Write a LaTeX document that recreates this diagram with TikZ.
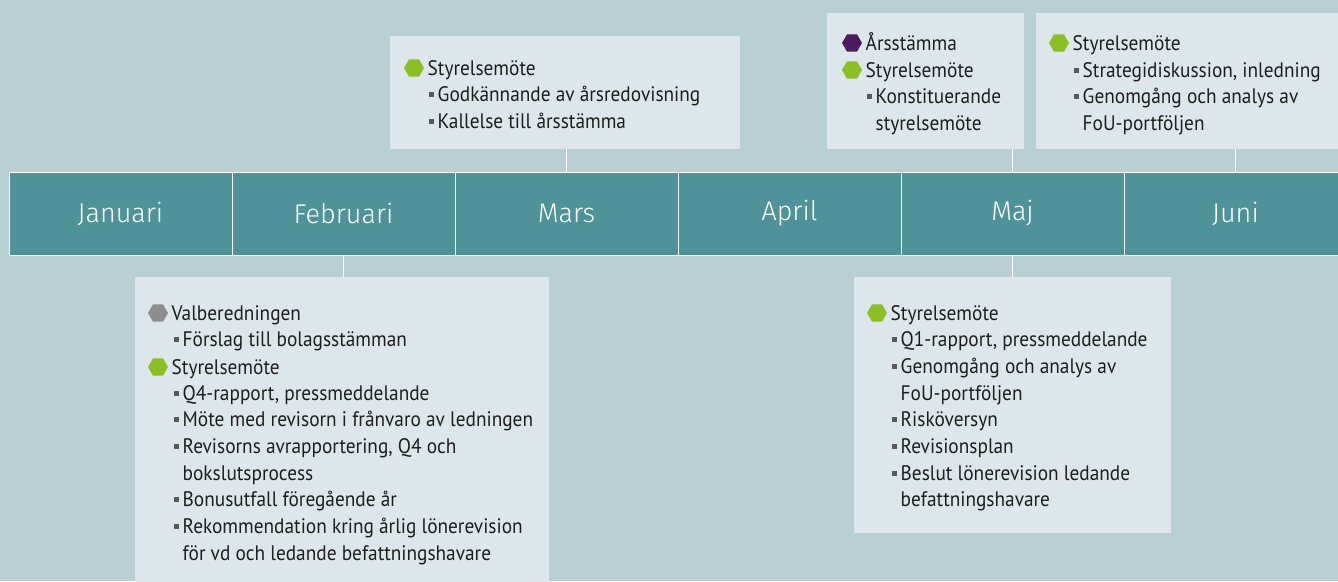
\documentclass[tikz,border=0pt]{standalone}
\usepackage{fontspec}
\setmainfont{PT Sans}[FakeStretch=0.92]
\newfontfamily\monthfont{Fira Sans Light}
\usetikzlibrary{shapes.geometric}
\definecolor{bgc}{HTML}{B8D0D4}
\definecolor{barc}{HTML}{50929A}
\definecolor{boxc}{HTML}{DDE7EB}
\definecolor{grn}{HTML}{8CBF26}
\definecolor{prp}{HTML}{4B1C5E}
\definecolor{gry}{HTML}{8E8E90}
\definecolor{txc}{HTML}{1E1E1E}
\definecolor{sqc}{HTML}{58585A}
\tikzset{
  month/.style={draw=white,line width=1pt,fill=barc,minimum width=223pt,minimum height=83pt,inner sep=0pt,text=white,font=\monthfont\fontsize{27}{32}\selectfont},
  infobox/.style={fill=boxc,draw=none,inner sep=0pt},
  conn/.style={draw=white,line width=1.2pt},
  hexb/.style={regular polygon,regular polygon sides=6,minimum size=20pt,inner sep=0pt,draw=none},
  sqb/.style={rectangle,minimum size=5pt,inner sep=0pt,fill=sqc,draw=none},
  txt/.style={anchor=base west,inner sep=0pt,text=txc,font=\fontsize{21}{24}\selectfont}
}
\newcounter{ln}
\newcommand\hxitem[4]{\stepcounter{ln}\node[hexb,fill=#1] (b\theln) at (#2,#3) {};\node[txt] (t\theln) at ([xshift=13.5pt,yshift=-7pt]b\theln.center) {#4};}
\newcommand\sqitem[3]{\stepcounter{ln}\node[sqb] (b\theln) at (#1,#2) {};\node[txt] (t\theln) at ([xshift=6.5pt,yshift=-7pt]b\theln.center) {#3};}
\newcommand\ctitem[3]{\stepcounter{ln}\node[txt] (t\theln) at ([yshift=-7pt]#1,#2) {#3};}
\begin{document}
\begin{tikzpicture}[x=1pt,y=-1pt]
\fill[bgc] (0,0) rectangle (1338,581);
\useasboundingbox (0,0) rectangle (1338,581);
% month bar
\node[month] (jan) at (120.5,213.5) {Januari};
\node[month] (feb) at (343.5,213.5) {Februari};
\node[month] (mar) at (566.5,213.5) {Mars};
\node[month] (apr) at (789.5,213.5) {April};
\node[month] (maj) at (1012.5,213.5) {Maj};
\node[month] (jun) at (1235.5,213.5) {Juni};
% boxes
\node[infobox,minimum width=350pt,minimum height=113pt] (marbox) at (565,92.5) {};
\node[infobox,minimum width=197pt,minimum height=136pt] (majtop) at (925.5,81) {};
\node[infobox,minimum width=309pt,minimum height=136pt] (juntop) at (1190.5,81) {};
\node[infobox,minimum width=414pt,minimum height=313pt] (febbox) at (342,433.5) {};
\node[infobox,minimum width=317pt,minimum height=256pt] (majbot) at (1012.5,405) {};
% connectors
\draw[conn] (mar.north) -- (mar.north |- marbox.south);
\draw[conn] (maj.north) -- (maj.north |- majtop.south);
\draw[conn] (jun.north) -- (jun.north |- juntop.south);
\draw[conn] (feb.south) -- (feb.south |- febbox.north);
\draw[conn] (maj.south) -- (maj.south |- majbot.north);
% Mars
\hxitem{grn}{414}{68}{Styrelsemöte}
\sqitem{431}{94}{Godkännande av årsredovisning}
\sqitem{431}{121}{Kallelse till årsstämma}
% Maj top
\hxitem{prp}{852}{43}{Årsstämma}
\hxitem{grn}{852}{70}{Styrelsemöte}
\sqitem{869}{96}{Konstituerande}
\ctitem{875.5}{123}{styrelsemöte}
% Juni top
\hxitem{grn}{1059}{43}{Styrelsemöte}
\sqitem{1076}{70}{Strategidiskussion, inledning}
\sqitem{1076}{96}{Genomgång och analys av}
\ctitem{1082.5}{123}{FoU-portföljen}
% Februari
\hxitem{gry}{158}{313}{Valberedningen}
\sqitem{176}{339}{Förslag till bolagsstämman}
\hxitem{grn}{158}{367}{Styrelsemöte}
\sqitem{176}{393}{Q4-rapport, pressmeddelande}
\sqitem{176}{419}{Möte med revisorn i frånvaro av ledningen}
\sqitem{176}{446}{Revisorns avrapportering, Q4 och}
\ctitem{182.5}{473}{bokslutsprocess}
\sqitem{176}{499}{Bonusutfall föregående år}
\sqitem{176}{526}{Rekommendation kring årlig lönerevision}
\ctitem{182.5}{553}{för vd och ledande befattningshavare}
% Maj bottom
\hxitem{grn}{877}{313}{Styrelsemöte}
\sqitem{894}{339}{Q1-rapport, pressmeddelande}
\sqitem{894}{366}{Genomgång och analys av}
\ctitem{900.5}{393}{FoU-portföljen}
\sqitem{894}{419}{Risköversyn}
\sqitem{894}{446}{Revisionsplan}
\sqitem{894}{473}{Beslut lönerevision ledande}
\ctitem{900.5}{499}{befattningshavare}
\end{tikzpicture}
\end{document}
